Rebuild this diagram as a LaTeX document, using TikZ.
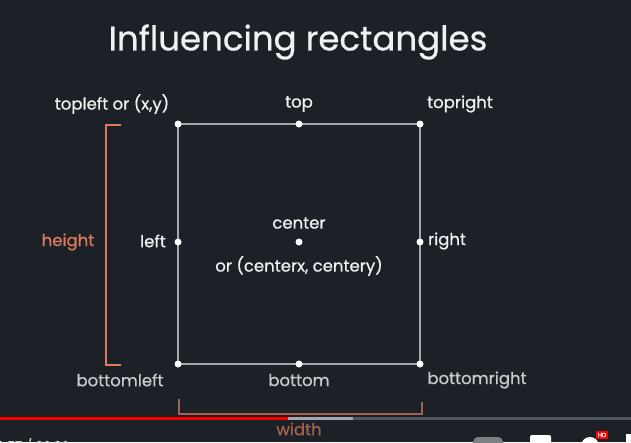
\documentclass[tikz,border=0pt]{standalone}
\usepackage{fontspec}
\setmainfont{Poppins}[FakeBold=0.6]
\definecolor{bg}{HTML}{1B2127}
\definecolor{txt}{HTML}{EEF2F2}
\definecolor{txtdim}{HTML}{C8CCCD}
\definecolor{rectc}{HTML}{A4A8AC}
\definecolor{orng}{HTML}{DE7A5E}
\definecolor{orngdim}{HTML}{A6624F}
\definecolor{ytred}{HTML}{FF0000}
\tikzset{
  lbl/.style={text=txt,font=\fontsize{16.5}{19}\selectfont,inner sep=0pt},
  lbldim/.style={lbl,text=txtdim},
  pt/.style={circle,fill=white,inner sep=0pt,minimum size=7pt},
  edge/.style={draw=rectc,line width=1.5pt},
  brk/.style={draw=orng,line width=2.2pt},
}
\begin{document}
\begin{tikzpicture}[x=1pt,y=-1pt]
\fill[bg] (0,0) rectangle (631,442);
\useasboundingbox (0,0) rectangle (631,442);
\node[text=txt,font=\fontsize{34}{40}\selectfont,inner sep=0pt] (title) at (298,42) {Influencing rectangles};
% rectangle
\coordinate (tl) at (178,124);
\coordinate (tr) at (420,124);
\coordinate (bl) at (178,364);
\coordinate (br) at (420,364);
\draw[edge] (tl) -- (tr) -- (br) -- (bl) -- cycle;
\node[pt] (ptl) at (tl) {};
\node[pt] (ptr) at (tr) {};
\node[pt] (pbl) at (bl) {};
\node[pt] (pbr) at (br) {};
\node[pt] (pt) at (299,124) {};
\node[pt] (pb) at (299,364) {};
\node[pt] (pl) at (178,242) {};
\node[pt] (pr) at (420,242) {};
\node[pt] (pc) at (299,242) {};
% labels
\node[lbl] (ltl) at (112,104) {topleft or (x,y)};
\node[lbl] (lt) at (299,104) {top};
\node[lbl] (ltr) at (460,104) {topright};
\node[lbl] (ll) at (153,241) {left};
\node[lbl] (lr) at (447,241) {right};
\node[lbl] (lc) at (299,223) {center};
\node[lbl] (lc2) at (299,266) {or (centerx, centery)};
\node[lbldim] (lbl) at (120,380) {bottomleft};
\node[lbldim] (lb) at (299,380) {bottom};
\node[lbldim] (lbr) at (477,380) {bottomright};
% height bracket
\draw[brk] (121,125) -- (106,125) -- (106,365) -- (121,365);
\node[lbl,text=orng] (lh) at (68,242) {height};
% width bracket
\draw[brk,draw=orngdim] (179,399) -- (179,414) -- (422,414) -- (422,402);
% progress bar
\fill[rectc!40!bg] (0,417) rectangle (631,420);
\fill[rectc] (288,417) rectangle (353,420);
\fill[ytred] (0,417) rectangle (288,420);
\node[lbl,text=orngdim] (lw) at (299,429) {width};
% player controls (cut off by the frame, as in the screenshot)
\node[lbldim,font=\fontsize{13}{15}\selectfont,anchor=north west] (time) at (-4,438) {0:57 / 20:20};
\fill[rectc!70!bg, rounded corners=5pt] (473,437) rectangle (503,448);
\fill[white,rounded corners=2pt] (530,435) rectangle (551,448);
\fill[white] (590,446) circle (9pt);
\fill[ytred] (596,431) rectangle (608,439);
\node[text=white,font=\fontsize{6}{7}\selectfont,inner sep=0pt] (hd) at (602,435) {HD};
\fill[white] (626,434) rectangle (631,448);
\end{tikzpicture}
\end{document}
